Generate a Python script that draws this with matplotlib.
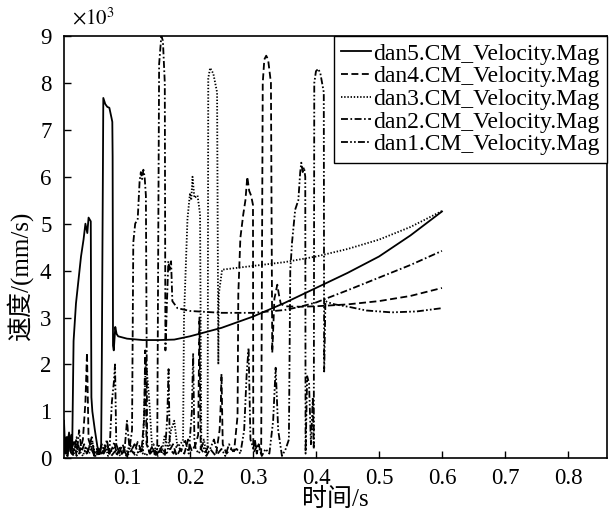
import matplotlib
matplotlib.use("Agg")
import matplotlib.pyplot as plt

plt.rcParams['font.family'] = ['Liberation Serif', 'Noto Sans CJK SC']
plt.rcParams['mathtext.fontset'] = 'stix'
plt.rcParams['lines.scale_dashes'] = False

# ---------------- data (velocity in x10^3 mm/s, time in s) ----------------
# dan5 (solid)
t_dan5 = [0.000, 0.002, 0.004, 0.006, 0.008, 0.010, 0.012, 0.013, 0.0152, 0.019, 0.023, 0.027,
          0.031, 0.034, 0.037, 0.039, 0.0425, 0.0435, 0.045, 0.049, 0.053, 0.057, 0.059, 0.060,
          0.0624, 0.0655, 0.0687, 0.072, 0.0755, 0.0767, 0.0772, 0.0778, 0.079, 0.0814, 0.0835,
          0.086, 0.100, 0.125, 0.150, 0.175, 0.200, 0.250, 0.300, 0.350, 0.400, 0.450, 0.500,
          0.550, 0.600]
v_dan5 = [0.80, 0.10, 0.45, 0.05, 0.55, 0.15, 0.50, 0.20, 2.50, 3.30, 3.80, 4.30,
          4.66, 5.00, 4.80, 5.13, 5.05, 1.30, 1.00, 0.60, 0.25, 0.10, 0.30, 2.00,
          7.68, 7.55, 7.49, 7.47, 7.25, 7.17, 6.43, 2.40, 2.30, 2.80, 2.65,
          2.60, 2.55, 2.52, 2.52, 2.53, 2.60, 2.78, 3.02, 3.31, 3.63, 3.95, 4.30,
          4.75, 5.26]

# dan4 (dashed)
t_dan4 = [0.000, 0.006, 0.012, 0.018, 0.024, 0.030, 0.034, 0.0365, 0.039, 0.045, 0.051, 0.057,
          0.063, 0.069, 0.075, 0.081, 0.087, 0.093, 0.099, 0.105, 0.111, 0.117, 0.123, 0.127,
          0.129, 0.131, 0.137, 0.143, 0.149, 0.155, 0.161, 0.167, 0.173, 0.179, 0.185, 0.191,
          0.197, 0.203, 0.209, 0.213, 0.215, 0.217, 0.223, 0.229, 0.235, 0.241, 0.247, 0.249,
          0.250, 0.252, 0.258, 0.264, 0.270, 0.2755,
          0.2767, 0.280, 0.2846, 0.288, 0.291, 0.294, 0.297, 0.300, 0.3005, 0.303, 0.306, 0.309,
          0.313, 0.3155, 0.318, 0.321, 0.324, 0.3285, 0.3306, 0.334, 0.3386, 0.341, 0.344, 0.350,
          0.375, 0.400, 0.450, 0.500, 0.550, 0.600]
v_dan4 = [0.10, 0.50, 0.05, 0.30, 0.10, 0.40, 1.20, 2.25, 0.40, 0.15, 0.05, 0.20,
          0.10, 0.25, 0.05, 0.15, 0.10, 0.30, 0.05, 0.20, 0.10, 0.35, 0.15, 0.80,
          2.30, 0.30, 0.10, 0.20, 0.05, 0.25, 0.10, 0.15, 0.30, 0.05, 0.20, 0.10,
          0.40, 0.15, 0.30, 0.50, 3.00, 0.20, 0.10, 0.25, 0.15, 0.05, 0.60, 1.20,
          1.80, 0.30, 0.10, 0.20, 0.15, 0.90,
          3.50, 4.70, 5.20, 5.50, 6.00, 5.70, 5.60, 5.40, 0.20, 0.40, 0.10, 0.30,
          0.10, 8.00, 8.50, 8.58, 8.50, 8.00, 2.25, 3.40, 3.70, 3.50, 3.30, 3.24,
          3.23, 3.24, 3.28, 3.35, 3.46, 3.63]

# dan3 (dotted)
t_dan3 = [0.000, 0.005, 0.010, 0.015, 0.020, 0.025, 0.030, 0.035, 0.040, 0.045, 0.050, 0.055,
          0.060, 0.065, 0.070, 0.075, 0.080, 0.085, 0.090, 0.095, 0.100, 0.105, 0.110, 0.115,
          0.120, 0.125, 0.130, 0.135, 0.140, 0.145, 0.150, 0.155, 0.160, 0.165, 0.170, 0.175,
          0.180, 0.185,
          0.189, 0.1905, 0.196, 0.200, 0.202, 0.204, 0.207, 0.212, 0.216, 0.218, 0.222, 0.226,
          0.228, 0.229, 0.232, 0.237, 0.243, 0.245, 0.2457, 0.251, 0.300, 0.350, 0.400, 0.450,
          0.500, 0.550, 0.600]
v_dan3 = [0.20, 0.05, 0.40, 0.10, 0.30, 0.15, 0.05, 0.25, 0.10, 0.35, 0.05, 0.20,
          0.10, 0.30, 0.05, 0.15, 0.25, 0.10, 0.05, 0.20, 0.15, 0.30, 0.10, 0.05,
          0.20, 0.10, 2.10, 1.30, 0.20, 0.05, 0.30, 0.10, 0.50, 0.20, 0.60, 0.80,
          0.25, 0.30,
          0.40, 3.00, 5.10, 5.65, 5.50, 6.00, 5.55, 5.60, 5.20, 0.20, 0.40, 0.10,
          0.30, 8.10, 8.32, 8.20, 7.80, 2.00, 3.50, 4.02, 4.10, 4.18, 4.30, 4.46,
          4.66, 4.93, 5.27]

# dan2 (dash-dot)
t_dan2 = [0.000, 0.004, 0.008, 0.012, 0.016, 0.020, 0.024, 0.028, 0.032, 0.036, 0.040, 0.044,
          0.048, 0.052, 0.056, 0.060, 0.064, 0.068, 0.072, 0.076, 0.080, 0.084, 0.088, 0.092,
          0.096, 0.100, 0.104,
          0.108, 0.110, 0.113, 0.117, 0.120, 0.122, 0.124, 0.126, 0.128, 0.130, 0.132, 0.136,
          0.140, 0.144, 0.148, 0.151, 0.1545, 0.157, 0.160, 0.161, 0.1656, 0.168, 0.170, 0.172,
          0.180, 0.200, 0.250, 0.300, 0.350, 0.375, 0.400, 0.425, 0.450, 0.500, 0.550, 0.600]
v_dan2 = [0.40, 0.10, 0.55, 0.20, 0.35, 0.05, 0.60, 0.15, 0.30, 0.10, 0.25, 0.45,
          0.10, 0.20, 0.05, 0.30, 0.15, 0.40, 0.10, 0.20, 0.35, 0.05, 0.25, 0.10,
          0.15, 0.80, 0.20,
          0.60, 4.60, 5.00, 5.10, 5.90, 6.10, 5.95, 6.15, 6.00, 5.60, 0.30, 0.10,
          0.25, 0.10, 0.20, 8.40, 9.00, 8.90, 8.00, 2.30, 4.20, 4.00, 4.20, 3.35,
          3.20, 3.14, 3.10, 3.10, 3.16, 3.23, 3.32, 3.45, 3.58, 3.85, 4.12, 4.42]

# dan1 (dash-dot-dot)
t_dan1 = [0.000, 0.005, 0.010, 0.015, 0.020, 0.025, 0.030, 0.036, 0.042, 0.048, 0.054, 0.060,
          0.066, 0.072, 0.076, 0.079, 0.081, 0.083, 0.088, 0.094, 0.100, 0.106, 0.112, 0.118,
          0.124, 0.130, 0.136, 0.142, 0.148, 0.154, 0.160, 0.164, 0.166, 0.168, 0.174, 0.180,
          0.186, 0.192, 0.198, 0.203, 0.205, 0.207, 0.209, 0.214, 0.220, 0.226, 0.232, 0.238,
          0.244, 0.250, 0.256, 0.262, 0.268, 0.274, 0.280, 0.286, 0.290, 0.293, 0.296, 0.302,
          0.308, 0.314, 0.320, 0.326, 0.332, 0.336, 0.340, 0.346, 0.352, 0.357,
          0.3592, 0.362, 0.367, 0.372, 0.375, 0.3767, 0.379, 0.381, 0.383, 0.3835, 0.386, 0.389,
          0.392, 0.395, 0.3965, 0.3973, 0.400, 0.4037, 0.407, 0.4124, 0.413, 0.415, 0.420, 0.430,
          0.455, 0.480, 0.520, 0.560, 0.600]
v_dan1 = [0.50, 0.10, 0.30, 0.05, 0.45, 0.15, 0.20, 0.10, 0.30, 0.05, 0.20, 0.10,
          0.25, 0.10, 1.20, 1.60, 2.00, 0.30, 0.10, 0.20, 0.05, 0.15, 0.30, 0.10,
          0.20, 0.05, 0.15, 0.30, 0.10, 0.20, 0.05, 0.90, 1.90, 0.20, 0.10, 0.30,
          0.15, 0.40, 0.10, 1.00, 2.24, 0.40, 0.20, 0.10, 0.30, 0.05, 0.20, 0.40,
          0.10, 0.20, 0.05, 0.30, 0.15, 0.20, 0.10, 0.60, 1.80, 2.35, 0.40, 0.15,
          0.30, 0.05, 0.20, 0.10, 0.80, 1.93, 0.60, 0.05, 0.20, 0.40,
          4.00, 4.60, 5.30, 5.50, 6.10, 6.30, 6.10, 6.20, 6.00, 0.10, 1.75, 1.60,
          0.30, 1.30, 0.20, 8.00, 8.25, 8.30, 8.20, 7.80, 1.85, 3.35, 3.32, 3.28,
          3.22, 3.15, 3.11, 3.13, 3.20]

labels = ['dan5.CM_Velocity.Mag', 'dan4.CM_Velocity.Mag', 'dan3.CM_Velocity.Mag',
          'dan2.CM_Velocity.Mag', 'dan1.CM_Velocity.Mag']
x_ticks = [0.1, 0.2, 0.3, 0.4, 0.5, 0.6, 0.7, 0.8]
y_ticks = [0, 1, 2, 3, 4, 5, 6, 7, 8, 9]

# ---------------- figure ----------------
W, H = 609, 515
fig = plt.figure(figsize=(W / 100, H / 100), dpi=100)
ax = fig.add_axes([64 / W, 1 - 458.3 / H, (607 - 64) / W, (458.3 - 36) / H])

styles = ['-', (0, (5, 2.5)), (0, (1, 1.3)), (0, (5, 1.8, 1.2, 1.8)),
          (0, (5, 1.6, 1.2, 1.6, 1.2, 1.6))]
series = [(t_dan5, v_dan5), (t_dan4, v_dan4), (t_dan3, v_dan3), (t_dan2, v_dan2), (t_dan1, v_dan1)]
for (t, v), ls, lab in zip(series, styles, labels):
    ax.plot(t, v, color='black', lw=1.3, linestyle=ls, label=lab)

ax.set_xlim(0, 0.862)
ax.set_ylim(0, 9)
ax.set_xticks(x_ticks)
ax.set_xticklabels([f'{x:.1f}' for x in x_ticks])
ax.set_yticks(y_ticks)
ax.set_yticklabels([str(y) for y in y_ticks])
ax.tick_params(axis='both', direction='in', length=5, width=1, labelsize=16.5, colors='black')
ax.tick_params(axis='y', pad=9)
ax.tick_params(axis='x', pad=7)
for sp in ax.spines.values():
    sp.set_linewidth(1.2)
    sp.set_color('black')

leg = ax.legend(loc='upper right', borderaxespad=0, fontsize=17, handlelength=1.25,
                handletextpad=0.12, labelspacing=0.05, borderpad=0.3, fancybox=False,
                framealpha=1, edgecolor='black')
leg.get_frame().set_linewidth(1.0)

fig.text(72 / W, 1 - 19 / H, r'$\times10^{3}$', fontsize=15, ha='left', va='center')
fig.text(20 / W, 1 - 275 / H, '速度/(mm/s)', rotation=90, fontsize=18, ha='center', va='center')
fig.text(335 / W, 1 - 500 / H, '时间/s', fontsize=18, ha='center', va='center')

fig.savefig('out.png', dpi=100)
